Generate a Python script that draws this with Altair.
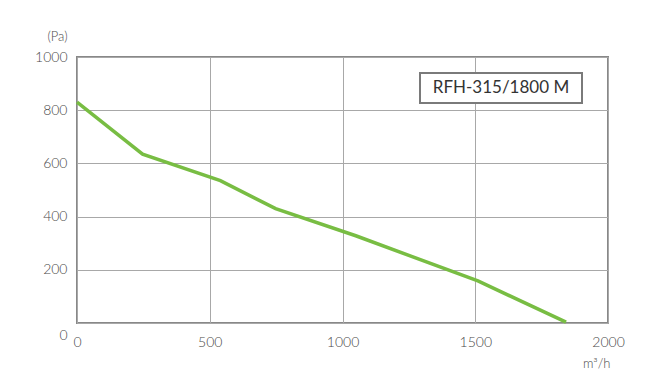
import altair as alt
import pandas as pd

# Curve
flow = [0, 247, 540, 748, 1050, 1510, 1842]
pressure = [830, 635, 535, 430, 328, 158, 3]

x_ticks = [0, 500, 1000, 1500, 2000]
y_ticks = [0, 200, 400, 600, 800, 1000]
model_label = "RFH-315/1800 M"

df = pd.DataFrame({"flow": flow, "pressure": pressure})

FONT = "Lato"
TXT = "#4a4a4a"

x_enc = alt.X(
    "flow:Q",
    scale=alt.Scale(domain=[0, 2000], nice=False),
    axis=alt.Axis(
        values=x_ticks, format="d", title="m³/h", grid=True, gridColor="#a8a8a8", gridWidth=1,
        ticks=False, domain=False, labelPadding=12, labelFlush=False,
        labelFont=FONT, labelFontSize=14, labelColor=TXT, labelFontWeight=300,
        titleFont=FONT, titleFontSize=13, titleFontWeight=300, titleColor=TXT,
        titleAnchor="end", titleAlign="right", titleX=533, titleY=34, titleBaseline="top",
    ),
)
y_enc = alt.Y(
    "pressure:Q",
    scale=alt.Scale(domain=[0, 1000], nice=False),
    axis=alt.Axis(
        values=y_ticks, format="d", title="(Pa)", grid=True, gridColor="#a8a8a8", gridWidth=1,
        ticks=False, domain=False, labelPadding=10, labelFlush=False,
        labelOffset={"condition": {"test": "datum.value == 0", "value": 12}, "value": 0},
        labelFont=FONT, labelFontSize=14, labelColor=TXT, labelFontWeight=300,
        titleFont=FONT, titleFontSize=13, titleFontWeight=300, titleColor=TXT,
        titleAngle=0, titleAlign="right", titleBaseline="middle", titleX=-10, titleY=-21,
    ),
)

line = alt.Chart(df).mark_line(color="#78bd43", strokeWidth=3.5).encode(x=x_enc, y=y_enc)

box = alt.Chart(pd.DataFrame({"t": [model_label]})).mark_rect(
    fill="white", stroke="#7a7a7a", strokeWidth=2
).encode(x=alt.value(343), x2=alt.value(505), y=alt.value(16), y2=alt.value(46))

label = alt.Chart(pd.DataFrame({"t": [model_label]})).mark_text(
    font=FONT, fontSize=17, color="#333333", align="center", baseline="middle"
).encode(text="t:N", x=alt.value(424), y=alt.value(31))

chart = (
    alt.layer(line, box, label)
    .properties(
        width=531, height=266,
        padding={"left": 77, "top": 57, "right": 40, "bottom": 66},
        autosize=alt.AutoSizeParams(type="none"),
        background="white",
    )
    .configure_view(stroke="#888888", strokeWidth=2)
)

chart.save("out.html", embed_options={"renderer": "svg", "actions": False})
